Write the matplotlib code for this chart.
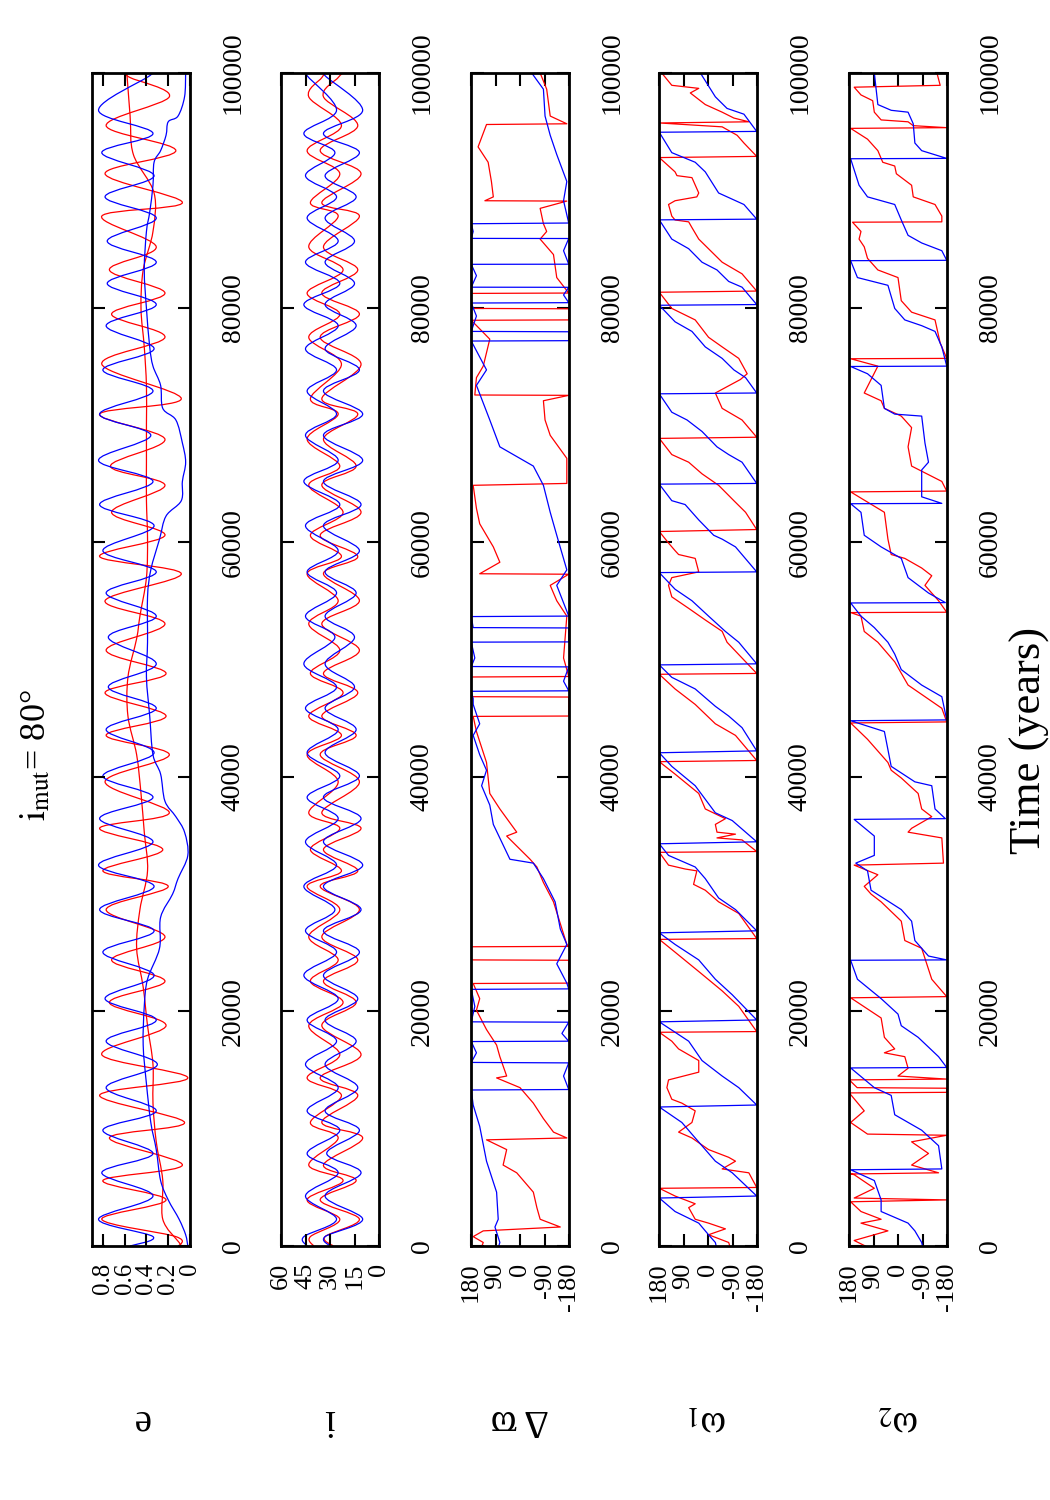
import matplotlib
matplotlib.use("Agg")
import numpy as np
import matplotlib.pyplot as plt
from matplotlib.path import Path
from matplotlib.patches import PathPatch

plt.rcParams["font.family"] = ["Liberation Serif", "DejaVu Serif"]
plt.rcParams["mathtext.fontset"] = "stix"

# ---- e panel: times in kyr ----
t_eb = [0.0, 0.80, 2.28, 4.26, 6.24, 7.89, 9.87, 11.52, 13.50, 15.48, 17.46, 19.27, 21.09,
        23.07, 25.05, 26.87, 28.68, 30.66, 32.47, 34.46, 36.44, 38.25, 40.07, 42.05, 44.03,
        45.84, 47.66, 49.63, 51.90, 53.70, 55.67, 57.47, 59.28, 61.41, 63.21, 65.18, 66.98,
        69.11, 70.92, 72.88, 74.69, 76.49, 78.46, 80.26, 82.06, 83.87, 85.67, 87.64, 89.44,
        91.25, 93.21, 94.85, 96.82, 99.77, 100.0]
e_blue1 = [0.55, 0.34, 0.84, 0.34, 0.81, 0.34, 0.80, 0.31, 0.77, 0.30, 0.77, 0.31, 0.78,
           0.33, 0.80, 0.33, 0.83, 0.33, 0.84, 0.34, 0.83, 0.34, 0.80, 0.33, 0.77, 0.31,
           0.75, 0.31, 0.75, 0.31, 0.77, 0.31, 0.80, 0.33, 0.83, 0.34, 0.84, 0.36, 0.83,
           0.34, 0.80, 0.33, 0.77, 0.31, 0.76, 0.31, 0.76, 0.31, 0.78, 0.33, 0.81, 0.34,
           0.84, 0.37, 0.38]
t_er = [0.0, 0.80, 2.28, 3.93, 5.58, 6.90, 9.21, 10.53, 12.84, 14.33, 16.31, 18.78, 20.76,
        22.57, 24.39, 26.37, 28.68, 30.66, 31.98, 33.80, 35.61, 36.93, 39.57, 41.88, 43.53,
        45.18, 47.16, 48.81, 50.79, 53.04, 55.01, 57.31, 58.78, 60.59, 62.55, 64.85, 66.49,
        68.78, 70.92, 72.23, 75.18, 77.47, 79.44, 81.24, 83.21, 85.18, 87.80, 88.95, 91.41,
        93.38, 95.51, 97.97, 99.61, 100.0]
e_red1 = [0.10, 0.13, 0.81, 0.22, 0.80, 0.07, 0.74, 0.05, 0.83, 0.02, 0.81, 0.22, 0.74,
          0.23, 0.72, 0.23, 0.77, 0.20, 0.80, 0.25, 0.83, 0.19, 0.78, 0.19, 0.77, 0.22,
          0.78, 0.22, 0.77, 0.23, 0.78, 0.08, 0.83, 0.23, 0.72, 0.23, 0.73, 0.23, 0.83,
          0.08, 0.81, 0.23, 0.72, 0.23, 0.74, 0.31, 0.81, 0.07, 0.78, 0.13, 0.77, 0.19,
          0.55, 0.60]
t_eb2 = [0.0, 0.96, 2.28, 3.93, 5.58, 8.22, 10.53, 13.83, 17.13, 20.43, 22.74, 25.38, 28.02,
         30.00, 31.32, 33.30, 35.28, 36.60, 37.92, 40.23, 41.88, 45.18, 48.48, 51.47, 55.34,
         57.64, 60.26, 62.23, 63.54, 65.18, 66.82, 68.46, 70.42, 71.41, 73.37, 75.01, 76.65,
         79.93, 83.21, 86.49, 88.13, 90.43, 92.39, 93.38, 94.69, 95.84, 96.33, 97.97, 100.0]
e_blue2 = [0.02, 0.04, 0.10, 0.20, 0.27, 0.31, 0.36, 0.40, 0.43, 0.42, 0.39, 0.28, 0.27,
           0.16, 0.11, 0.02, 0.05, 0.13, 0.23, 0.27, 0.34, 0.37, 0.40, 0.39, 0.39, 0.36,
           0.28, 0.22, 0.08, 0.07, 0.04, 0.07, 0.13, 0.25, 0.27, 0.34, 0.37, 0.40, 0.42,
           0.40, 0.37, 0.34, 0.33, 0.27, 0.22, 0.20, 0.11, 0.05, 0.04]
t_er2 = [0.0, 0.30, 2.28, 5.58, 8.88, 12.18, 15.48, 18.78, 22.08, 25.38, 28.68, 31.98, 35.28,
         38.58, 41.88, 45.18, 48.48, 51.78, 53.70, 56.98, 60.26, 63.54, 66.82, 70.09, 73.37,
         76.65, 79.93, 83.21, 86.49, 89.77, 93.05, 96.33, 100.0]
e_red2 = [0.08, 0.10, 0.25, 0.25, 0.31, 0.34, 0.34, 0.39, 0.43, 0.49, 0.46, 0.39, 0.42,
          0.45, 0.49, 0.57, 0.57, 0.49, 0.46, 0.40, 0.39, 0.40, 0.40, 0.40, 0.40, 0.42,
          0.45, 0.43, 0.34, 0.33, 0.52, 0.55, 0.58]

# ---- i panel (degrees), on the same extremum times as e ----
i_blue_lo = [30, 33, 10, 33, 11, 32, 12, 33, 13, 33, 14, 33, 13, 34, 12, 34, 11, 34, 10,
             34, 11, 34, 12, 33, 14, 33, 15, 33, 15, 33, 14, 33, 12, 34, 11, 34, 10, 34, 10,
             34, 12, 33, 14, 33, 15, 33, 15, 33, 14, 33, 12, 34, 10, 33, 31]
i_blue_hi = [44, 46, 26, 45, 25, 44, 24, 44, 25, 45, 26, 44, 25, 46, 26, 45, 27, 46, 26,
             45, 25, 44, 24, 44, 25, 45, 26, 46, 27, 45, 26, 44, 25, 45, 24, 46, 25, 45, 26,
             44, 26, 45, 25, 46, 24, 45, 25, 44, 26, 45, 27, 46, 26, 44, 43]
i_red_lo = [28, 33, 12, 36, 14, 34, 10, 35, 13, 36, 11, 35, 14, 34, 13, 35, 12, 36, 13,
            34, 11, 35, 12, 36, 14, 35, 13, 34, 12, 35, 12, 34, 13, 36, 11, 35, 14, 34, 13,
            35, 11, 36, 12, 35, 13, 34, 12, 35, 11, 36, 13, 34, 25, 22]
i_red_hi = [40, 42, 24, 44, 22, 43, 25, 42, 23, 44, 24, 43, 22, 42, 25, 43, 24, 44, 23,
            42, 24, 43, 25, 44, 23, 43, 22, 42, 24, 43, 25, 44, 23, 42, 22, 43, 24, 44, 25,
            42, 23, 43, 24, 44, 22, 43, 25, 42, 24, 44, 23, 43, 35, 33]

# ---- delta varpi (deg) ----
t_dw_blue = [100.00, 98.62, 96.33, 94.69, 93.05, 90.75, 89.11, 87.21, 87.15, 86.49, 85.90,
             85.89, 84.85, 83.70, 83.69, 82.72, 81.74, 81.73, 81.08, 80.42, 80.39, 79.28,
             77.97, 77.94, 77.18, 77.15, 74.69, 73.37, 70.42, 68.13, 66.49, 64.85, 62.55,
             60.59, 57.64, 56.32, 53.70, 53.66, 52.72, 52.69, 51.50, 51.48, 50.13, 49.40,
             49.37, 48.15, 47.33, 47.29, 46.67, 46.17, 44.52, 43.53, 41.88, 40.56, 39.24,
             37.59, 35.94, 32.97, 32.64, 31.32, 29.34, 27.03, 25.71, 24.06, 22.41, 21.92,
             21.88, 20.43, 19.11, 19.08, 18.12, 17.46, 17.43, 16.47, 15.65, 15.61, 14.49,
             13.34, 13.30, 12.02, 10.20, 7.23, 4.59, 2.28, 1.62, 0.30, 0.0]
dw_blue = [-43, -86, -92, -111, -135, -172, -160, -179, 179, 172, 179, -179, -160, -179,
           179, 160, 179, -179, -160, -179, 179, 160, 179, -179, -179, 179, 123, 160, 111,
           74, -49, -86, -111, -135, -172, -135, -179, 179, 172, -179, -179, 179, 166, 179,
           -179, -160, -179, 179, 172, 172, 148, 172, 148, 123, 141, 111, 98, 37, -49, -86,
           -129, -148, -172, -135, -172, -179, 179, 166, 179, -179, -154, -179, 179, 160,
           179, -179, -160, -179, 179, 172, 148, 123, 86, 80, 92, 74, 78]
t_dw_red = [100.00, 98.62, 96.33, 95.67, 95.61, 93.70, 92.39, 90.75, 89.44, 89.11, 89.08,
            88.46, 87.15, 86.49, 85.84, 84.52, 82.56, 81.24, 81.21, 79.93, 79.90, 78.95,
            78.92, 77.31, 75.01, 74.03, 72.55, 72.52, 72.06, 70.42, 69.11, 67.15, 65.01,
            64.85, 62.88, 61.57, 59.60, 58.29, 57.31, 57.27, 56.32, 55.01, 53.70, 50.13,
            48.55, 48.51, 46.83, 46.80, 45.18, 45.15, 43.86, 41.22, 38.58, 37.26, 35.28,
            34.95, 32.97, 32.31, 30.99, 29.34, 25.71, 25.54, 25.51, 24.39, 24.36, 22.41,
            22.38, 21.09, 20.10, 18.45, 17.13, 16.14, 14.49, 14.33, 13.50, 12.18, 10.86,
            9.71, 9.21, 9.05, 8.22, 6.90, 6.24, 4.59, 3.27, 2.28, 1.62, 1.29, 0.80, 0.30, 0.0]
dw_red = [-74, -98, -111, -172, 123, 154, 117, 105, 98, 129, -172, -74, -86, -98, -74, -123,
          -135, -179, 179, 179, -179, -179, 179, 111, 135, 160, 166, -179, -86, -92, -111,
          -172, -172, 172, 160, 148, 98, 74, 148, -179, -111, -135, -172, -160, -179, 179,
          179, -179, -179, 172, 160, 123, 111, 74, 12, 49, -37, -62, -86, -123, -172, -179,
          179, 179, -179, -179, 172, 148, 160, 123, 86, 74, 49, 86, 0, -49, -86, -123, -172,
          123, 49, 62, 12, -49, -62, -74, -148, 135, 172, 135, 140]

# ---- omega 1 (deg) ----
t_w1_blue = [100.00, 97.97, 96.98, 96.49, 95.02, 94.95, 93.21, 92.39, 91.57, 89.77, 88.79,
             87.54, 87.48, 85.84, 85.02, 83.87, 83.21, 82.23, 81.74, 80.26, 80.20, 78.79,
             77.97, 76.65, 75.67, 74.69, 74.03, 72.72, 72.65, 71.08, 70.42, 69.44, 68.13,
             67.47, 66.82, 65.01, 64.95, 63.54, 63.21, 61.90, 60.59, 60.26, 59.60, 57.47,
             57.41, 55.99, 55.01, 53.70, 52.39, 51.47, 49.63, 49.54, 48.48, 47.49, 46.01,
             45.18, 44.19, 42.21, 42.05, 40.89, 39.24, 36.93, 36.27, 34.46, 34.29, 33.30,
             32.31, 31.32, 29.67, 28.68, 26.87, 26.70, 25.71, 24.39, 22.74, 21.42, 19.27,
             19.11, 17.46, 15.81, 14.49, 13.50, 12.02, 11.85, 10.53, 9.21, 7.23, 6.24, 4.26,
             4.09, 2.94, 1.95, 0.96, 0.30, 0.0]
w1_blue = [28, -27, -70, -132, -179, 179, 133, 47, 10, -39, -132, -179, 179, 133, 71, 22,
           -33, -76, -125, -179, 179, 121, 59, 10, -52, -95, -138, -179, 179, 133, 77, 22,
           -33, -76, -125, -179, 179, 133, 84, 34, -21, -52, -101, -179, 179, 121, 59, -2,
           -64, -113, -179, 179, 133, 47, -27, -76, -125, -179, 179, 133, 47, -27, -89,
           -179, 179, 145, 47, 10, -39, -101, -179, 179, 121, 34, -27, -89, -179, 179, 71,
           22, -52, -113, -179, 179, 96, 47, -27, -89, -179, 179, 121, 34, -2, -27, -30]
t_w1_red = [100.00, 98.95, 98.69, 98.30, 97.31, 96.66, 96.16, 95.84, 95.74, 95.41, 94.69,
            94.03, 92.89, 92.79, 91.57, 91.25, 91.08, 89.77, 89.44, 89.11, 88.79, 87.80,
            87.47, 87.31, 86.82, 85.84, 83.87, 82.88, 81.41, 81.31, 79.93, 78.95, 77.47,
            76.65, 75.67, 74.36, 73.87, 72.72, 71.41, 70.42, 68.95, 68.85, 67.47, 66.82,
            65.83, 64.85, 63.54, 62.55, 61.08, 60.91, 59.93, 59.28, 58.95, 58.62, 57.47,
            56.98, 56.32, 55.34, 54.36, 53.37, 52.40, 51.47, 48.81, 48.74, 47.49, 46.17,
            44.52, 43.53, 41.39, 41.29, 40.23, 38.58, 37.26, 36.43, 35.94, 35.28, 35.11,
            34.79, 34.62, 33.63, 33.56, 32.47, 32.14, 31.98, 30.83, 30.33, 29.34, 28.35,
            26.21, 26.14, 25.05, 23.40, 21.75, 20.43, 18.28, 18.22, 17.46, 16.80, 15.81,
            14.82, 14.16, 13.50, 12.51, 12.18, 11.52, 10.53, 9.71, 9.21, 8.22, 7.56, 7.23,
            6.57, 6.24, 4.99, 4.92, 4.26, 3.60, 3.27, 2.28, 1.95, 1.46, 0.96, 0.30, 0.0]
w1_red = [170, 133, 34, 65, 10, -52, -95, -150, 179, -52, -107, -132, -179, 179, 121, 114,
          59, 34, 41, 121, 145, 133, 121, 71, 59, 34, -52, -125, -179, 179, 133, 47, -2,
          -52, -113, -144, -119, -27, -52, -125, -179, 179, 133, 71, 22, -39, -95, -138,
          -179, 179, 145, 121, 108, 47, 34, 133, 145, 133, 71, 10, -52, -70, -179, 179,
          121, 47, -27, -101, -179, 179, 121, 34, 10, -64, -27, -33, -101, -33, -125, -179,
          179, 145, 84, 41, 53, 10, -39, -113, -179, 179, 121, 34, -52, -113, -179, 179,
          133, 108, 34, 34, 145, 151, 133, 96, 47, 59, 108, 59, -2, -76, -101, -52, -150,
          -179, 179, 121, 47, 71, 47, -2, -64, -2, -76, -80]

# ---- omega 2 (deg) ----
t_w2_blue = [100.00, 97.31, 96.82, 96.66, 95.67, 94.03, 93.38, 92.72, 92.69, 90.43, 89.44,
             88.79, 87.47, 86.16, 85.51, 84.85, 84.03, 84.00, 82.56, 81.90, 79.93, 78.95,
             78.46, 77.97, 76.65, 75.01, 74.98, 74.36, 73.37, 71.41, 70.92, 70.75, 68.46,
             66.82, 66.16, 63.87, 63.31, 63.28, 62.55, 60.59, 59.60, 58.62, 56.98, 55.67,
             54.85, 54.82, 53.70, 52.72, 51.47, 50.46, 49.14, 47.82, 46.83, 44.85, 44.78,
             43.86, 40.89, 39.57, 39.24, 37.26, 36.43, 36.37, 34.95, 33.30, 32.64, 31.98,
             30.33, 28.68, 27.69, 26.04, 24.72, 24.39, 24.36, 22.74, 21.09, 19.77, 18.78,
             17.79, 16.14, 15.22, 15.18, 13.50, 12.84, 11.19, 9.87, 8.55, 6.57, 6.50, 5.58,
             3.93, 2.94, 1.95, 1.29, 0.30, 0.0]
w2_blue = [87, 74, 25, -37, -56, -62, -87, -179, 174, 143, 112, 12, -12, -37, -87, -161,
           -179, 174, 149, 37, 12, -25, -87, -136, -161, -179, 174, 112, 62, 50, 12, -87,
           -99, -112, -87, -87, -161, 174, 136, 124, 62, -12, -37, -112, -174, 174, 136, 87,
           37, 12, -12, -87, -161, -179, 174, 50, 25, -62, -124, -136, -174, 161, 87, 87,
           155, 112, 99, -12, -50, -62, -112, -179, 174, 149, 62, 0, -12, -74, -149, -179,
           174, 87, 25, 12, -87, -149, -161, 174, 87, 62, 62, -37, -62, -87, -90]
t_w2_red = [100.00, 98.95, 98.79, 98.13, 97.64, 96.66, 96.00, 95.84, 95.51, 95.34, 95.28,
            94.36, 93.38, 92.39, 92.07, 91.41, 90.43, 89.44, 88.79, 87.80, 87.31, 87.28,
            86.49, 85.84, 85.18, 84.20, 83.21, 82.56, 80.59, 79.61, 78.95, 76.98, 75.67,
            75.64, 75.01, 72.72, 72.06, 71.41, 70.75, 69.77, 68.13, 66.49, 65.18, 64.36,
            64.29, 62.55, 60.26, 58.95, 58.62, 57.80, 57.14, 56.32, 55.01, 54.03, 54.00,
            53.70, 52.39, 51.47, 49.80, 47.82, 45.84, 44.68, 44.59, 43.20, 41.22, 40.56,
            39.90, 38.58, 37.26, 36.60, 35.61, 35.28, 34.79, 32.64, 32.47, 31.65, 30.66,
            30.00, 29.34, 27.69, 26.04, 25.38, 22.74, 21.26, 21.16, 19.44, 17.79, 16.80,
            16.47, 16.14, 15.15, 14.49, 14.23, 14.16, 13.50, 13.45, 13.10, 13.05, 11.52,
            10.53, 9.54, 9.44, 8.88, 7.89, 6.90, 6.24, 6.14, 6.08, 4.92, 4.09, 3.93, 3.77,
            2.94, 2.28, 1.95, 1.29, 0.47, 0.0]
w2_red = [-143, -155, 161, 136, 93, 87, 62, -37, -56, -179, 174, 112, 74, 56, 12, 6, -50,
          -56, -136, -161, -161, 167, 136, 143, 124, 112, 74, 0, -12, -50, -136, -155, -179,
          174, 74, 124, 62, 50, -12, -50, -37, -50, -161, -179, 174, 50, 37, 25, -25, -87,
          -124, -99, -149, -179, 174, 136, 124, 74, 12, -37, -161, -179, 174, 112, 37, 25,
          -12, -74, -87, -124, -50, -37, -161, -167, 161, 74, 124, 99, 62, -12, -25, -87,
          -124, -179, 174, 62, 50, 12, 50, -25, -37, 0, -179, 179, 150, -179, -179, 179,
          124, 174, 112, -179, -50, -112, -50, -149, 174, 161, 87, 161, -179, 174, 136, 62,
          136, 37, 161, 120]


def smooth_line(ax, v, t, color):
    # draw the read-off points as one smooth Bezier path (Catmull-Rom style)
    p = np.column_stack([np.asarray(v, float), np.asarray(t, float) * 1000])
    q = np.vstack([p[:1], p, p[-1:]])
    verts = [p[0]]
    codes = [Path.MOVETO]
    for k in range(1, len(q) - 2):
        verts += [q[k] + (q[k + 1] - q[k - 1]) / 6, q[k + 1] - (q[k + 2] - q[k]) / 6, q[k + 1]]
        codes += [Path.CURVE4] * 3
    ax.add_patch(PathPatch(Path(verts, codes), fill=False, edgecolor=color, lw=0.9))


panels = [
    ("e", (0.9, 0.0), [0, 0.2, 0.4, 0.6, 0.8], ["0", "0.2", "0.4", "0.6", "0.8"], True,
     [(t_er, e_red1, "r"), (t_er2, e_red2, "r"), (t_eb, e_blue1, "b"), (t_eb2, e_blue2, "b")]),
    ("i", (60, 0), [0, 15, 30, 45, 60], ["0", "15", "30", "45", "60"], True,
     [(t_er, i_red_lo, "r"), (t_er, i_red_hi, "r"), (t_eb, i_blue_lo, "b"), (t_eb, i_blue_hi, "b")]),
    ("Δ ϖ", (180, -180), [-180, -90, 0, 90, 180], ["-180", "-90", "0", "90", "180"], False,
     [(t_dw_red, dw_red, "r"), (t_dw_blue, dw_blue, "b")]),
    ("ω$_1$", (180, -180), [-180, -90, 0, 90, 180], ["-180", "-90", "0", "90", "180"], False,
     [(t_w1_red, w1_red, "r"), (t_w1_blue, w1_blue, "b")]),
    ("ω$_2$", (180, -180), [-180, -90, 0, 90, 180], ["-180", "-90", "0", "90", "180"], False,
     [(t_w2_red, w2_red, "r"), (t_w2_blue, w2_blue, "b")]),
]

colors = {"r": "#ff0000", "b": "#0000ff"}
lefts = [92, 281, 471, 659, 849]

fig = plt.figure(figsize=(10.5, 15), dpi=100)
for n, (left, (label, xlim, xt, xtl, smooth, series)) in enumerate(zip(lefts, panels)):
    ax = fig.add_axes([left / 1050, 1 - 1246 / 1500, 98 / 1050, 1173 / 1500])
    for t, v, c in series:
        if smooth:
            smooth_line(ax, v, t, colors[c])
        else:
            ax.plot(v, np.array(t) * 1000, color=colors[c], lw=0.9)
    ax.set_xlim(*xlim)
    ax.set_ylim(0, 100000)
    ax.set_xticks(xt)
    ax.set_xticklabels(xtl)
    ax.set_yticks(range(0, 100001, 20000))
    ax.set_yticklabels([str(v) for v in range(0, 100001, 20000)])
    ax.tick_params(direction="in", length=9, width=1.5, top=True, bottom=True,
                   left=True, right=True, labelleft=False, labelright=True,
                   labelsize=20)
    ax.tick_params(axis="x", labelrotation=90, pad=12, labelsize=18 if n == 0 else 19)
    ax.tick_params(axis="y", labelrotation=90, pad=22)
    for lab in ax.get_yticklabels():
        lab.set_verticalalignment("center")
    for s in ax.spines.values():
        s.set_linewidth(2)
    fig.text((left + 49) / 1050, 1 - 1420 / 1500, label, rotation=180,
             ha="center", va="center", fontsize=28)

fig.text(36 / 1050, 1 - 755 / 1500, r"$\mathrm{i}_{\mathrm{mut}}$= 80°", rotation=90,
         ha="center", va="center", fontsize=26)
fig.text(1030 / 1050, 1 - 740 / 1500, "Time (years)", rotation=90,
         ha="center", va="center", fontsize=32)

fig.savefig("out.png", dpi=100)
